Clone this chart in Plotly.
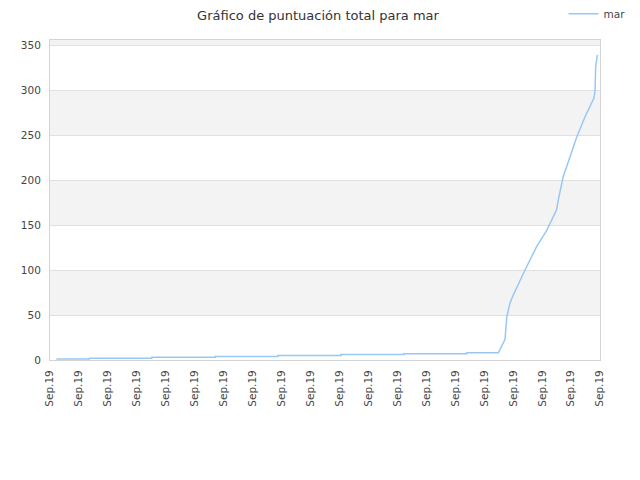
import plotly.graph_objects as go

# score history for "mar" (x = position along the time axis, in tick units)
x_pos = [0.22, 1.36, 1.36, 3.52, 3.52, 5.70, 5.70, 7.87, 7.87, 10.05, 10.05,
         12.23, 12.23, 14.40, 14.40, 15.49, 15.72, 15.78, 15.78, 15.89, 16.0,
         16.41, 16.81, 17.16, 17.50, 17.56, 17.73, 17.85, 18.20, 18.48, 18.79,
         18.83, 18.85, 18.91]
scores = [1, 1, 2, 2, 3, 3, 4, 4, 5, 5, 6, 6, 7, 7, 8, 8, 23, 44, 48, 63, 72,
          100, 126, 144, 167, 178, 204, 215, 248, 270, 291, 300, 326, 339]

tick_vals = list(range(20))
tick_text = ["Sep.19"] * 20

fig = go.Figure()
fig.add_trace(go.Scatter(
    x=x_pos, y=scores, mode="lines", name="mar",
    line=dict(color="#99c7f4", width=1.5),
))

# alternating background bands
for lo in range(50, 400, 100):
    fig.add_shape(type="rect", xref="paper", yref="y", x0=0, x1=1, y0=lo, y1=lo + 50,
                  fillcolor="#f3f3f3", line_width=0, layer="below")

# page body has an 8px margin, so the figure is a bit smaller than the window
fig.update_layout(
    width=632, height=472,
    margin=dict(l=42, r=40, t=32, b=120, autoexpand=False),
    paper_bgcolor="white", plot_bgcolor="white",
    font=dict(family="DejaVu Sans", size=10.5, color="#444444"),
    title=dict(text="Gráfico de puntuación total para mar", x=0.4905, y=0.985,
               xanchor="center", yanchor="middle", font=dict(size=13, color="#333333")),
    showlegend=True,
    legend=dict(x=0.985, y=0.988, xanchor="right", yanchor="middle", xref="container",
                yref="container", bgcolor="rgba(0,0,0,0)", font=dict(size=10.5)),
    xaxis=dict(range=[0, 19], tickvals=tick_vals, ticktext=tick_text, tickangle=-90,
               showgrid=False, zeroline=False, showline=True, linecolor="#d4d4d4",
               mirror=True, ticks="", automargin=False, ticklabelstandoff=5),
    yaxis=dict(range=[0, 355.6], tickvals=list(range(0, 351, 50)), showgrid=True,
               gridcolor="#e0e0e0", zeroline=False, showline=True, linecolor="#d4d4d4",
               mirror=True, ticks="", automargin=False, ticklabelstandoff=6),
)

fig.write_html("out.html")
